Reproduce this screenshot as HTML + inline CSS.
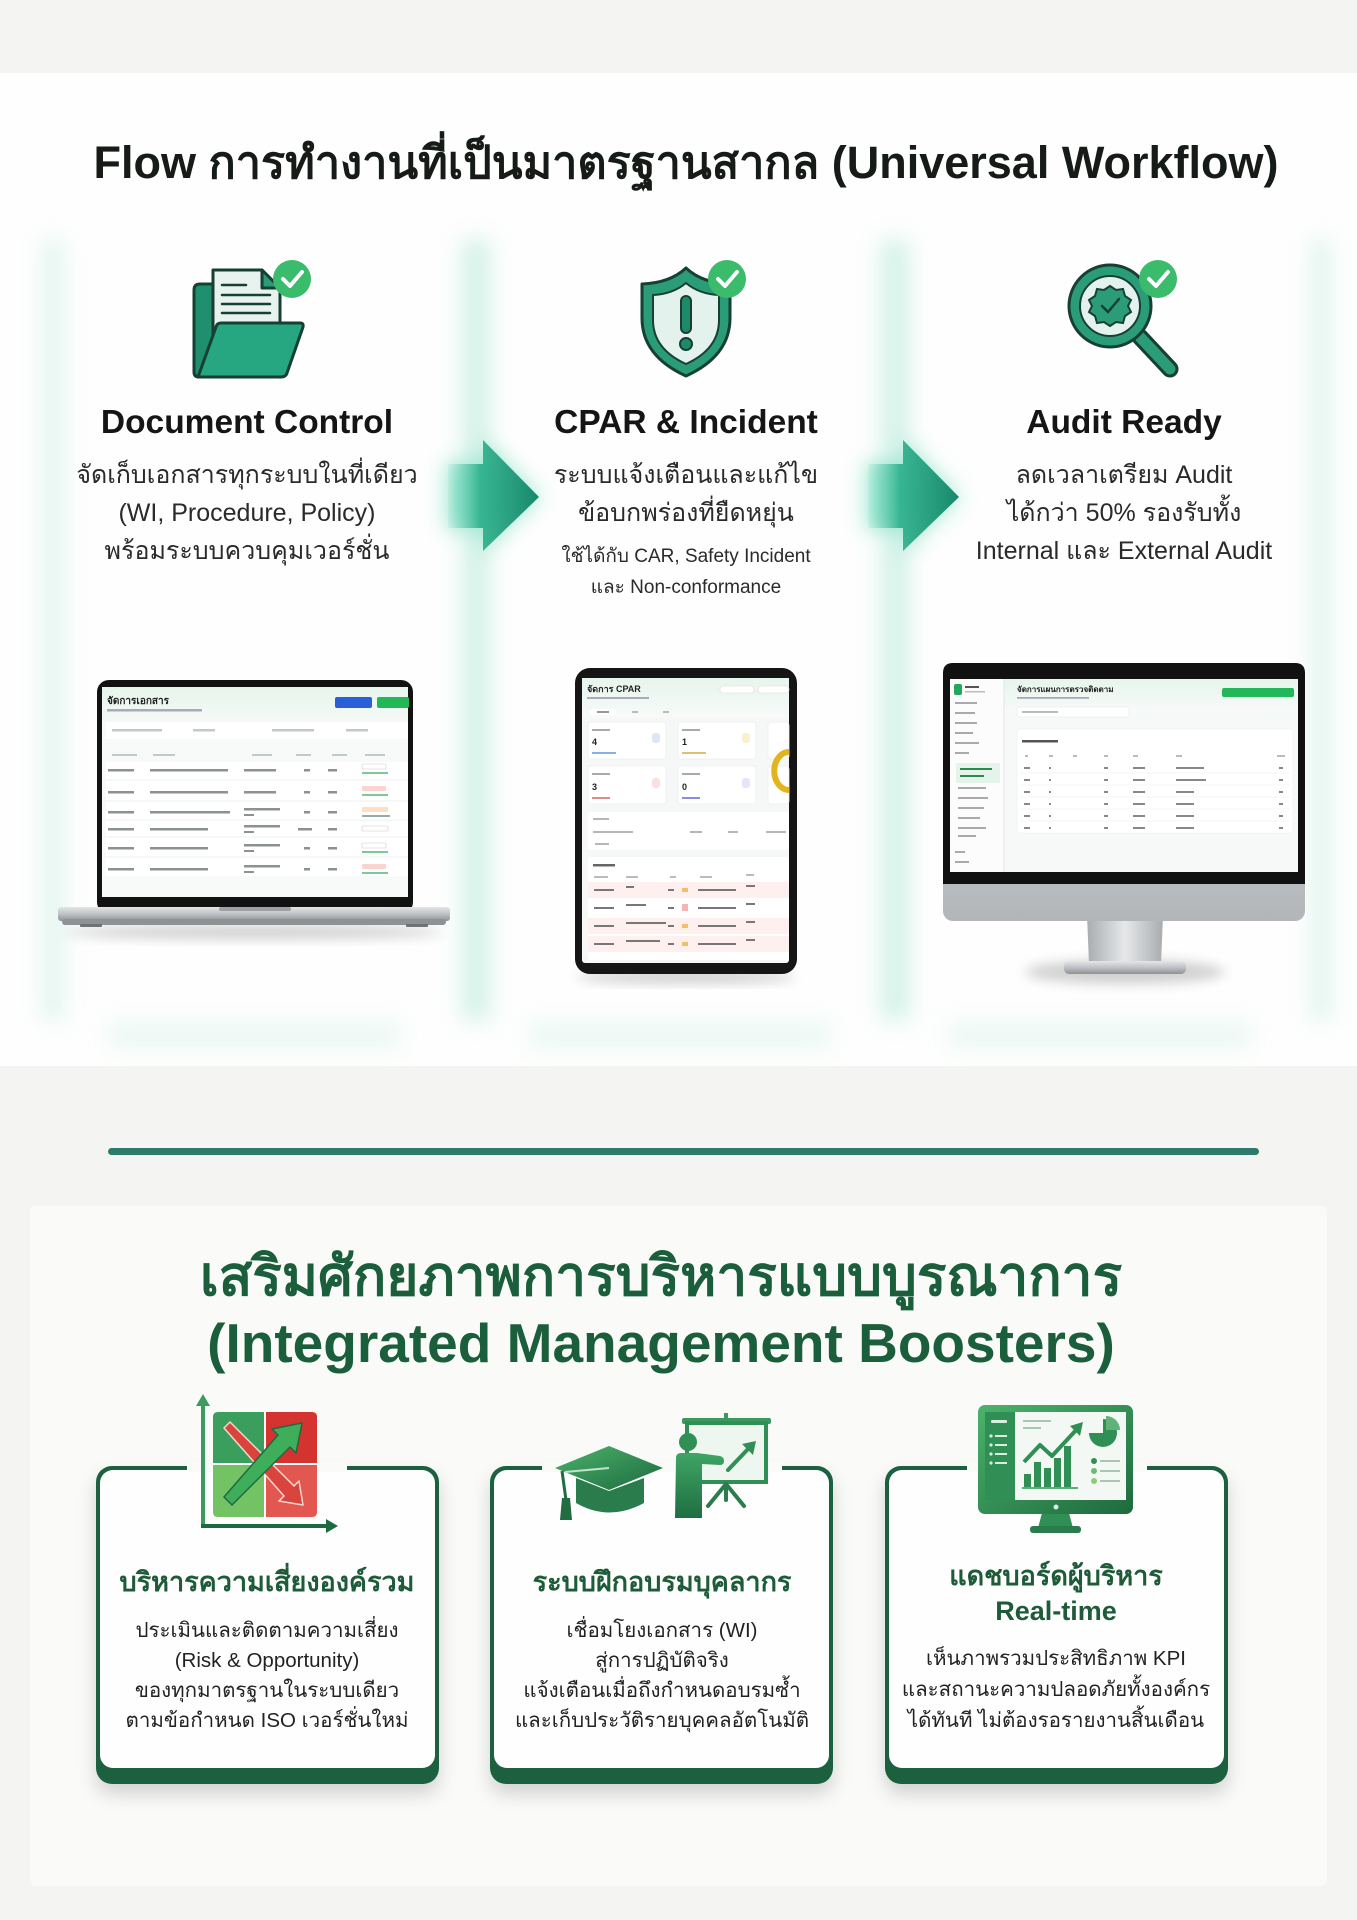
<!DOCTYPE html>
<html><head><meta charset="utf-8">
<style>
html,body{margin:0;padding:0;}
body{width:1357px;height:1920px;position:relative;overflow:hidden;background:#f4f5f2;font-family:"Liberation Sans","DejaVu Sans",sans-serif;}
.t{position:absolute;text-align:center;white-space:nowrap;font-family:"Liberation Sans","DejaVu Sans",sans-serif;}
</style></head>
<body>
<svg width="1357" height="1920" style="position:absolute;left:0;top:0" xmlns="http://www.w3.org/2000/svg">
<defs>
 <filter id="b10" x="-50%" y="-50%" width="200%" height="200%"><feGaussianBlur stdDeviation="10"/></filter>
 <filter id="b6" x="-50%" y="-50%" width="200%" height="200%"><feGaussianBlur stdDeviation="6"/></filter>
 <filter id="b3" x="-50%" y="-50%" width="200%" height="200%"><feGaussianBlur stdDeviation="3"/></filter>
 <filter id="cardsh" x="-20%" y="-20%" width="140%" height="150%"><feDropShadow dx="0" dy="10" stdDeviation="9" flood-color="#000" flood-opacity="0.16"/></filter>
 <linearGradient id="arrG" x1="0" x2="1" y1="0" y2="0">
  <stop offset="0" stop-color="#5fd0b0" stop-opacity="0.1"/>
  <stop offset="0.35" stop-color="#2cb08b" stop-opacity="0.9"/>
  <stop offset="1" stop-color="#17876b"/>
 </linearGradient>
 <linearGradient id="silver" x1="0" y1="0" x2="0" y2="1">
  <stop offset="0" stop-color="#e4e6e8"/><stop offset="0.5" stop-color="#bfc2c5"/><stop offset="1" stop-color="#8e9194"/>
 </linearGradient>
 <linearGradient id="silverH" x1="0" y1="0" x2="1" y2="0">
  <stop offset="0" stop-color="#a9acaf"/><stop offset="0.5" stop-color="#e6e8ea"/><stop offset="1" stop-color="#a9acaf"/>
 </linearGradient>
 <linearGradient id="chin" x1="0" y1="0" x2="0" y2="1">
  <stop offset="0" stop-color="#dadcde"/><stop offset="1" stop-color="#b3b6b9"/>
 </linearGradient>
 <linearGradient id="mintHead" x1="0" y1="0" x2="0" y2="1">
  <stop offset="0" stop-color="#e6f5ec"/><stop offset="1" stop-color="#f8faf9"/>
 </linearGradient>
 <linearGradient id="gG" x1="0" y1="0" x2="1" y2="1">
  <stop offset="0" stop-color="#4cb36b"/><stop offset="1" stop-color="#1d6a3e"/>
 </linearGradient>
 <linearGradient id="gG2" x1="0" y1="0" x2="0" y2="1">
  <stop offset="0" stop-color="#3fa564"/><stop offset="1" stop-color="#1f6e42"/>
 </linearGradient>
</defs>

<!-- backgrounds -->
<rect x="0" y="0" width="1357" height="1920" fill="#f4f5f2"/>
<rect x="0" y="73" width="1357" height="993" fill="#fdfefd"/>
<rect x="30" y="1206" width="1297" height="680" rx="6" fill="#fafbf9"/>

<!-- column glows -->
<g filter="url(#b10)" opacity="0.75">
 <rect x="44" y="240" width="18" height="780" fill="#d4f1e8"/>
 <rect x="462" y="240" width="28" height="780" fill="#c7eee1"/>
 <rect x="881" y="240" width="28" height="780" fill="#c7eee1"/>
 <rect x="1312" y="240" width="18" height="780" fill="#d4f1e8"/>
 <rect x="110" y="1022" width="290" height="26" fill="#e6f6f0"/>
 <rect x="530" y="1022" width="300" height="26" fill="#e6f6f0"/>
 <rect x="950" y="1022" width="300" height="26" fill="#e6f6f0"/>
</g>

<!-- arrows -->
<g filter="url(#b10)" opacity="0.8">
 <polygon points="446,462 482,462 482,438 540,497 482,553 482,530 446,530" fill="#8fe3cb"/>
 <polygon points="866,462 902,462 902,438 960,497 902,553 902,530 866,530" fill="#8fe3cb"/>
</g>
<polygon points="448,464 483,464 483,440 539,497 483,551 483,528 448,528" fill="url(#arrG)"/>
<polygon points="868,464 903,464 903,440 959,497 903,551 903,528 868,528" fill="url(#arrG)"/>

<!-- Doc icon -->
<g stroke="#173f33" stroke-width="3" stroke-linejoin="round">
 <path d="M194 290 Q194 284 200 284 L222 284 L228 290 L268 290 Q272 290 272 294 L272 372 Q272 377 267 377 L199 377 Q194 377 194 372 Z" fill="#1f8f6d"/>
 <path d="M213 270 L262 270 L280 288 L280 335 L213 335 Z" fill="#e8f3ef"/>
 <path d="M262 270 L262 288 L280 288 Z" fill="#2a9d78"/>
 <g stroke-width="2.5" stroke-linecap="round">
  <line x1="222" y1="285" x2="246" y2="285"/>
  <line x1="222" y1="295" x2="270" y2="295"/>
  <line x1="222" y1="304" x2="270" y2="304"/>
  <line x1="222" y1="313" x2="270" y2="313"/>
 </g>
 <path d="M198 377 L216 327 Q217 323 221 323 L300 323 Q304 323 303 327 L287 373 Q286 377 281 377 Z" fill="#26a781"/>
</g>
<circle cx="292" cy="279" r="19" fill="#3bbb6c"/>
<polyline points="283,279 290,286 302,272" fill="none" stroke="#fff" stroke-width="4" stroke-linecap="round" stroke-linejoin="round"/>

<!-- Shield icon -->
<g stroke="#173f33" stroke-linejoin="round">
 <path d="M686 268 Q702 283 730 284 L730 318 Q730 356 686 376 Q642 356 642 318 L642 284 Q670 283 686 268 Z" fill="#2a9d78" stroke-width="3"/>
 <path d="M686 283 Q699 294 719 295 L719 320 Q719 349 686 364 Q653 349 653 320 L653 295 Q673 294 686 283 Z" fill="#e4f2ed" stroke-width="2"/>
 <rect x="681" y="296" width="10" height="37" rx="5" fill="#1f8a6a" stroke-width="2"/>
 <circle cx="686" cy="344" r="6" fill="#1f8a6a" stroke-width="2"/>
</g>
<circle cx="727" cy="279" r="19" fill="#3bbb6c"/>
<polyline points="718,279 725,286 737,272" fill="none" stroke="#fff" stroke-width="4" stroke-linecap="round" stroke-linejoin="round"/>

<!-- Magnifier icon -->
<line x1="1140" y1="337" x2="1170" y2="369" stroke="#173f33" stroke-width="17" stroke-linecap="round"/>
<line x1="1140" y1="337" x2="1170" y2="369" stroke="#2a9d78" stroke-width="11" stroke-linecap="round"/>
<circle cx="1110" cy="306" r="41" fill="#2a9d78" stroke="#173f33" stroke-width="3"/>
<circle cx="1110" cy="306" r="30" fill="#e4f2ed" stroke="#173f33" stroke-width="2"/>
<polygon points="1110,286 1116,290 1123,289 1125,296 1131,300 1128,306 1131,312 1125,316 1123,323 1116,322 1110,326 1104,322 1097,323 1095,316 1089,312 1092,306 1089,300 1095,296 1097,289 1104,290" fill="#2a9d78" stroke="#173f33" stroke-width="2"/>
<polyline points="1102,306 1108,312 1119,299" fill="none" stroke="#173f33" stroke-width="2.5" stroke-linecap="round"/>
<circle cx="1158" cy="279" r="19" fill="#3bbb6c"/>
<polyline points="1149,279 1156,286 1168,272" fill="none" stroke="#fff" stroke-width="4" stroke-linecap="round" stroke-linejoin="round"/>

<!-- ============ LAPTOP ============ -->
<ellipse cx="254" cy="932" rx="190" ry="7" fill="#000" opacity="0.18" filter="url(#b6)"/>
<rect x="97" y="680" width="316" height="234" rx="12" fill="#121212"/>
<rect x="102" y="687" width="306" height="210" fill="#f8faf9"/>
<rect x="102" y="687" width="306" height="42" fill="url(#mintHead)"/>
<text x="107" y="704" font-size="10" font-weight="bold" fill="#222" font-family="Liberation Sans, DejaVu Sans, sans-serif">จัดการเอกสาร</text>
<rect x="107" y="709" width="95" height="2.5" fill="#aab"/>
<rect x="335" y="697" width="37" height="11" rx="2" fill="#2b5fd9"/>
<rect x="377" y="697" width="32" height="11" rx="2" fill="#22b857"/>
<rect x="106" y="722" width="302" height="17" fill="#ffffff"/>
<g fill="#c4c8c6">
 <rect x="112" y="729" width="50" height="2.5"/><rect x="193" y="729" width="22" height="2.5"/>
 <rect x="272" y="729" width="42" height="2.5"/><rect x="346" y="729" width="22" height="2.5"/>
 <rect x="112" y="754" width="25" height="2"/><rect x="153" y="754" width="22" height="2"/>
 <rect x="252" y="754" width="20" height="2"/><rect x="296" y="754" width="15" height="2"/>
 <rect x="332" y="754" width="15" height="2"/><rect x="365" y="754" width="20" height="2"/>
</g>
<rect x="106" y="762" width="302" height="114" fill="#fff"/>
<g fill="#8c9290">
 <rect x="108" y="769" width="26" height="2.5"/><rect x="150" y="769" width="78" height="2.5"/><rect x="244" y="769" width="32" height="2.5"/><rect x="304" y="769" width="6" height="2.5"/><rect x="328" y="769" width="9" height="2.5"/>
 <rect x="108" y="791" width="26" height="2.5"/><rect x="150" y="791" width="78" height="2.5"/><rect x="244" y="791" width="32" height="2.5"/><rect x="304" y="791" width="6" height="2.5"/><rect x="328" y="791" width="9" height="2.5"/>
 <rect x="108" y="811" width="26" height="2.5"/><rect x="150" y="811" width="80" height="2.5"/><rect x="244" y="808" width="36" height="2.5"/><rect x="244" y="814" width="10" height="2"/><rect x="304" y="811" width="6" height="2.5"/><rect x="328" y="811" width="9" height="2.5"/>
 <rect x="108" y="828" width="26" height="2.5"/><rect x="150" y="828" width="58" height="2.5"/><rect x="244" y="825" width="36" height="2.5"/><rect x="244" y="831" width="10" height="2"/><rect x="298" y="828" width="14" height="2.5"/><rect x="328" y="828" width="9" height="2.5"/>
 <rect x="108" y="847" width="26" height="2.5"/><rect x="150" y="847" width="58" height="2.5"/><rect x="244" y="844" width="36" height="2.5"/><rect x="244" y="850" width="10" height="2"/><rect x="304" y="847" width="6" height="2.5"/><rect x="328" y="847" width="9" height="2.5"/>
 <rect x="108" y="868" width="26" height="2.5"/><rect x="150" y="868" width="58" height="2.5"/><rect x="244" y="865" width="36" height="2.5"/><rect x="244" y="871" width="10" height="2"/><rect x="304" y="868" width="6" height="2.5"/><rect x="328" y="868" width="9" height="2.5"/>
</g>
<g>
 <rect x="362" y="764" width="24" height="5" rx="1" fill="#fff" stroke="#ccc" stroke-width="0.6"/><rect x="362" y="772" width="26" height="2" fill="#7cc99a"/>
 <rect x="362" y="786" width="24" height="5" rx="1" fill="#fbd3d3"/><rect x="362" y="794" width="26" height="2" fill="#7cc99a"/>
 <rect x="362" y="807" width="26" height="5" rx="1" fill="#fde0c2"/><rect x="362" y="815" width="28" height="2" fill="#9aa"/>
 <rect x="362" y="826" width="26" height="5" rx="1" fill="#fff" stroke="#ccc" stroke-width="0.6"/>
 <rect x="362" y="843" width="24" height="5" rx="1" fill="#fff" stroke="#ccc" stroke-width="0.6"/><rect x="362" y="851" width="26" height="2" fill="#7cc99a"/>
 <rect x="362" y="864" width="24" height="5" rx="1" fill="#fbd3d3"/><rect x="362" y="872" width="26" height="2" fill="#7cc99a"/>
</g>
<g stroke="#eef0ef" stroke-width="1">
 <line x1="106" y1="780" x2="408" y2="780"/><line x1="106" y1="801" x2="408" y2="801"/><line x1="106" y1="820" x2="408" y2="820"/><line x1="106" y1="837" x2="408" y2="837"/><line x1="106" y1="857" x2="408" y2="857"/>
</g>
<rect x="58" y="907" width="392" height="14" rx="3" fill="url(#silver)"/>
<rect x="62" y="919" width="384" height="6" rx="3" fill="#8f9295"/>
<rect x="219" y="907" width="72" height="4" rx="2" fill="#9ea1a4"/>
<rect x="80" y="924" width="22" height="3" rx="1" fill="#6f7275"/>
<rect x="406" y="924" width="22" height="3" rx="1" fill="#6f7275"/>

<!-- ============ TABLET ============ -->
<ellipse cx="686" cy="977" rx="110" ry="6" fill="#000" opacity="0.2" filter="url(#b6)"/>
<rect x="575" y="668" width="222" height="306" rx="15" fill="#151515"/>
<rect x="582" y="678" width="207" height="285" rx="3" fill="#f6f8f7"/>
<rect x="582" y="678" width="207" height="40" fill="url(#mintHead)"/>
<text x="587" y="692" font-size="9" font-weight="bold" fill="#222" font-family="Liberation Sans, DejaVu Sans, sans-serif">จัดการ CPAR</text>
<rect x="587" y="697" width="62" height="2" fill="#aab"/>
<rect x="720" y="686" width="34" height="7" rx="3" fill="#fff" stroke="#ddd" stroke-width="0.6"/>
<rect x="758" y="686" width="31" height="7" rx="3" fill="#fff" stroke="#ddd" stroke-width="0.6"/>
<rect x="590" y="709" width="26" height="6" rx="2" fill="#fff"/>
<rect x="597" y="711" width="12" height="2" fill="#999"/><rect x="632" y="711" width="6" height="2" fill="#bbb"/><rect x="663" y="711" width="6" height="2" fill="#bbb"/>
<g fill="#fff" stroke="#eceeed" stroke-width="0.8">
 <rect x="588" y="722" width="78" height="37" rx="3"/><rect x="678" y="722" width="78" height="37" rx="3"/><rect x="768" y="722" width="21" height="37" rx="3"/>
 <rect x="588" y="766" width="78" height="38" rx="3"/><rect x="678" y="766" width="78" height="38" rx="3"/><rect x="768" y="766" width="21" height="38" rx="3"/>
</g>
<g font-family="Liberation Sans, DejaVu Sans, sans-serif" font-size="9" font-weight="bold" fill="#222">
 <text x="592" y="745">4</text><text x="682" y="745">1</text><text x="592" y="790">3</text><text x="682" y="790">0</text>
</g>
<g fill="#aaa"><rect x="592" y="729" width="18" height="2"/><rect x="682" y="729" width="18" height="2"/><rect x="592" y="773" width="18" height="2"/><rect x="682" y="773" width="18" height="2"/></g>
<rect x="592" y="752" width="24" height="2" fill="#8ab0e0"/><rect x="682" y="752" width="24" height="2" fill="#e0c070"/>
<rect x="592" y="797" width="18" height="2" fill="#e08a8a"/><rect x="682" y="797" width="18" height="2" fill="#8a8ae0"/>
<rect x="652" y="733" width="8" height="10" rx="3" fill="#dde6f7"/><rect x="742" y="733" width="8" height="10" rx="3" fill="#fbf0cc"/>
<rect x="652" y="778" width="8" height="10" rx="3" fill="#fbe0e0"/><rect x="742" y="778" width="8" height="10" rx="3" fill="#e4e4fb"/>
<path d="M789 752 A 14 18 0 0 0 789 790" fill="none" stroke="#e2b51e" stroke-width="6"/>
<rect x="588" y="812" width="201" height="38" rx="3" fill="#fff"/>
<g fill="#b4b8b6"><rect x="593" y="818" width="16" height="2"/><rect x="593" y="831" width="40" height="2"/><rect x="690" y="831" width="12" height="2"/><rect x="728" y="831" width="10" height="2"/><rect x="766" y="831" width="20" height="2"/><rect x="595" y="843" width="14" height="2"/></g>
<rect x="588" y="857" width="201" height="103" rx="3" fill="#fff"/>
<rect x="593" y="864" width="22" height="2.5" fill="#666"/>
<g fill="#bbb"><rect x="594" y="876" width="14" height="2"/><rect x="626" y="876" width="12" height="2"/><rect x="670" y="876" width="6" height="2"/><rect x="700" y="876" width="12" height="2"/><rect x="746" y="874" width="8" height="2"/></g>
<g fill="#fdf0ee">
 <rect x="588" y="882" width="201" height="16"/><rect x="588" y="918" width="201" height="16"/><rect x="588" y="936" width="201" height="16"/>
</g>
<g fill="#777">
 <rect x="594" y="889" width="20" height="2"/><rect x="626" y="886" width="8" height="2"/><rect x="668" y="889" width="6" height="2"/><rect x="682" y="888" width="6" height="4" fill="#f3c06a"/><rect x="698" y="889" width="38" height="2"/><rect x="746" y="885" width="9" height="2"/>
 <rect x="594" y="907" width="20" height="2"/><rect x="626" y="904" width="20" height="2"/><rect x="668" y="907" width="6" height="2"/><rect x="682" y="904" width="6" height="7" fill="#f5b5b5"/><rect x="698" y="907" width="38" height="2"/><rect x="746" y="903" width="9" height="2"/>
 <rect x="594" y="925" width="20" height="2"/><rect x="626" y="922" width="40" height="2"/><rect x="668" y="925" width="6" height="2"/><rect x="682" y="924" width="6" height="4" fill="#f3c06a"/><rect x="698" y="925" width="38" height="2"/><rect x="746" y="921" width="9" height="2"/>
 <rect x="594" y="943" width="20" height="2"/><rect x="626" y="940" width="34" height="2"/><rect x="668" y="943" width="6" height="2"/><rect x="682" y="942" width="6" height="4" fill="#f3c06a"/><rect x="698" y="943" width="38" height="2"/><rect x="746" y="939" width="9" height="2"/>
</g>

<!-- ============ iMAC ============ -->
<ellipse cx="1125" cy="972" rx="100" ry="12" fill="#000" opacity="0.18" filter="url(#b6)"/>
<path d="M1087 915 L1163 915 L1161 964 L1089 964 Z" fill="url(#silverH)"/>
<rect x="1064" y="961" width="122" height="13" rx="5" fill="url(#silver)"/>
<rect x="943" y="663" width="362" height="258" rx="10" fill="url(#chin)"/>
<path d="M953 663 L1295 663 Q1305 663 1305 673 L1305 884 L943 884 L943 673 Q943 663 953 663 Z" fill="#111"/>
<rect x="950" y="679" width="348" height="193" fill="#f7f9f8"/>
<rect x="1004" y="679" width="294" height="34" fill="url(#mintHead)"/>
<rect x="950" y="679" width="54" height="193" fill="#fbfcfb"/>
<line x1="1004" y1="679" x2="1004" y2="872" stroke="#e3e6e4" stroke-width="1"/>
<rect x="954" y="684" width="8" height="11" rx="2" fill="#22a85a"/>
<rect x="965" y="686" width="14" height="2" fill="#555"/><rect x="965" y="691" width="20" height="1.5" fill="#bbb"/>
<g fill="#aaa">
 <rect x="955" y="702" width="22" height="2"/><rect x="955" y="712" width="20" height="2"/><rect x="955" y="722" width="22" height="2"/><rect x="955" y="732" width="18" height="2"/><rect x="955" y="742" width="24" height="2"/><rect x="955" y="752" width="14" height="2"/>
 <rect x="958" y="787" width="28" height="2"/><rect x="958" y="797" width="30" height="2"/><rect x="958" y="807" width="26" height="2"/><rect x="958" y="817" width="22" height="2"/><rect x="958" y="827" width="28" height="2"/><rect x="958" y="835" width="18" height="2"/>
 <rect x="955" y="851" width="10" height="2"/><rect x="955" y="861" width="14" height="2"/>
</g>
<rect x="956" y="763" width="44" height="20" rx="2" fill="#e5f4ea"/>
<rect x="960" y="768" width="32" height="2" fill="#2d8a4e"/><rect x="960" y="775" width="24" height="2" fill="#2d8a4e"/>
<text x="1017" y="692" font-size="8" font-weight="bold" fill="#222" font-family="Liberation Sans, DejaVu Sans, sans-serif">จัดการแผนการตรวจติดตาม</text>
<rect x="1017" y="697" width="72" height="1.8" fill="#aab"/>
<rect x="1222" y="688" width="72" height="9" rx="2" fill="#22b85a"/>
<rect x="1017" y="707" width="112" height="10" rx="2" fill="#fff" stroke="#e3e6e4" stroke-width="0.6"/>
<rect x="1022" y="711" width="36" height="2" fill="#bbb"/>
<rect x="1017" y="729" width="276" height="104" rx="3" fill="#fff" stroke="#eceeed" stroke-width="0.6"/>
<rect x="1022" y="740" width="36" height="2.5" fill="#555"/>
<g fill="#b8bcba"><rect x="1025" y="755" width="3" height="2"/><rect x="1049" y="755" width="4" height="2"/><rect x="1073" y="755" width="4" height="2"/><rect x="1104" y="755" width="4" height="2"/><rect x="1133" y="755" width="5" height="2"/><rect x="1176" y="755" width="6" height="2"/><rect x="1277" y="755" width="8" height="2"/></g>
<g fill="#888">
 <rect x="1024" y="767" width="6" height="2"/><rect x="1049" y="767" width="2" height="2"/><rect x="1104" y="767" width="4" height="2"/><rect x="1133" y="767" width="12" height="2"/><rect x="1176" y="767" width="28" height="2"/><rect x="1279" y="767" width="4" height="2"/>
 <rect x="1024" y="779" width="6" height="2"/><rect x="1049" y="779" width="2" height="2"/><rect x="1104" y="779" width="4" height="2"/><rect x="1133" y="779" width="12" height="2"/><rect x="1176" y="779" width="30" height="2"/><rect x="1279" y="779" width="4" height="2"/>
 <rect x="1024" y="791" width="6" height="2"/><rect x="1049" y="791" width="2" height="2"/><rect x="1104" y="791" width="4" height="2"/><rect x="1133" y="791" width="12" height="2"/><rect x="1176" y="791" width="18" height="2"/><rect x="1279" y="791" width="4" height="2"/>
 <rect x="1024" y="803" width="6" height="2"/><rect x="1049" y="803" width="2" height="2"/><rect x="1104" y="803" width="4" height="2"/><rect x="1133" y="803" width="12" height="2"/><rect x="1176" y="803" width="18" height="2"/><rect x="1279" y="803" width="4" height="2"/>
 <rect x="1024" y="815" width="6" height="2"/><rect x="1049" y="815" width="2" height="2"/><rect x="1104" y="815" width="4" height="2"/><rect x="1133" y="815" width="12" height="2"/><rect x="1176" y="815" width="18" height="2"/><rect x="1279" y="815" width="4" height="2"/>
 <rect x="1024" y="827" width="6" height="2"/><rect x="1049" y="827" width="2" height="2"/><rect x="1104" y="827" width="4" height="2"/><rect x="1133" y="827" width="12" height="2"/><rect x="1176" y="827" width="18" height="2"/><rect x="1279" y="827" width="4" height="2"/>
</g>
<g stroke="#f0f1f0" stroke-width="0.8"><line x1="1020" y1="773" x2="1290" y2="773"/><line x1="1020" y1="785" x2="1290" y2="785"/><line x1="1020" y1="797" x2="1290" y2="797"/><line x1="1020" y1="809" x2="1290" y2="809"/><line x1="1020" y1="821" x2="1290" y2="821"/></g>

<!-- separator -->
<rect x="108" y="1148" width="1151" height="7" rx="3.5" fill="#2b7a6b"/>

<!-- ============ CARDS ============ -->
<g filter="url(#cardsh)">
 <rect x="96" y="1466" width="343" height="318" rx="16" fill="#1a6140"/>
 <rect x="490" y="1466" width="343" height="318" rx="16" fill="#1a6140"/>
 <rect x="885" y="1466" width="343" height="318" rx="16" fill="#1a6140"/>
</g>
<rect x="100" y="1470" width="335" height="298" rx="13" fill="#fdfefd"/>
<rect x="494" y="1470" width="335" height="298" rx="13" fill="#fdfefd"/>
<rect x="889" y="1470" width="335" height="298" rx="13" fill="#fdfefd"/>
<!-- gaps in top border -->
<rect x="187" y="1462" width="160" height="10" fill="#fafbf9"/>
<rect x="542" y="1462" width="240" height="10" fill="#fafbf9"/>
<rect x="967" y="1462" width="180" height="10" fill="#fafbf9"/>

<!-- Risk icon -->
<rect x="213" y="1412" width="104" height="105" rx="5" fill="#fff"/>
<path d="M218 1412 L264 1412 L264 1463 L213 1463 L213 1417 Q213 1412 218 1412 Z" fill="#3a9e5c"/>
<path d="M266 1412 L312 1412 Q317 1412 317 1417 L317 1463 L266 1463 Z" fill="#d4332f"/>
<path d="M213 1465 L264 1465 L264 1517 L218 1517 Q213 1517 213 1512 Z" fill="#73c263"/>
<path d="M266 1465 L317 1465 L317 1512 Q317 1517 312 1517 L266 1517 Z" fill="#e2574f"/>
<line x1="203" y1="1527" x2="203" y2="1402" stroke="#3c9c5e" stroke-width="4"/>
<polygon points="203,1394 196,1406 210,1406" fill="#3c9c5e"/>
<line x1="201" y1="1526" x2="330" y2="1526" stroke="#1d6a40" stroke-width="4"/>
<polygon points="338,1526 326,1519 326,1533" fill="#1d6a40"/>
<path d="M224 1428 L230 1422 L294 1486 L299 1481 L303 1505 L279 1501 L284 1496 Z" fill="#d9443c" stroke="#f3d8d0" stroke-width="1.5" stroke-linejoin="round"/>
<path d="M224 1497 L232 1505 L290 1447 L296 1453 L302 1423 L272 1429 L278 1435 Z" fill="#3fae5a" stroke="#1d6a40" stroke-width="1.5" stroke-linejoin="round"/>

<!-- Education icon -->
<polygon points="555,1468 609,1446 663,1468 609,1490" fill="url(#gG)"/>
<path d="M576 1478 L609 1491 L644 1478 L644 1503 Q609 1522 576 1503 Z" fill="#2a7c4c"/>
<line x1="609" y1="1468" x2="565" y2="1472" stroke="#bfe3cc" stroke-width="2"/>
<line x1="562" y1="1471" x2="566" y2="1500" stroke="#226c41" stroke-width="3"/>
<path d="M562 1498 L570 1498 L572 1520 L560 1520 Z" fill="#226c41"/>
<rect x="682" y="1418" width="89" height="6" rx="2" fill="#3a9a5e"/>
<rect x="724" y="1413" width="4" height="6" fill="#3a9a5e"/>
<rect x="687" y="1423" width="79" height="59" fill="#eef6f0" stroke="#2f8f55" stroke-width="4"/>
<line x1="726" y1="1484" x2="708" y2="1506" stroke="#2a7c4c" stroke-width="4" stroke-linecap="round"/>
<line x1="726" y1="1484" x2="744" y2="1506" stroke="#2a7c4c" stroke-width="4" stroke-linecap="round"/>
<line x1="726" y1="1484" x2="726" y2="1500" stroke="#2a7c4c" stroke-width="4" stroke-linecap="round"/>
<line x1="728" y1="1470" x2="749" y2="1448" stroke="#2f8f55" stroke-width="4" stroke-linecap="round"/>
<polygon points="756,1441 742,1444 753,1455" fill="#2f8f55"/>
<circle cx="688" cy="1442" r="9" fill="#2f8f55"/>
<path d="M676 1458 Q676 1453 681 1453 L697 1453 L720 1456 Q724 1457 724 1461 Q724 1465 720 1465 L702 1464 L702 1518 L675 1518 Z" fill="url(#gG2)"/>

<!-- Dashboard monitor icon -->
<path d="M1042 1513 L1069 1513 L1073 1528 L1038 1528 Z" fill="#2f8f55"/>
<rect x="1030" y="1526" width="51" height="7" rx="3" fill="#2a7c4c"/>
<rect x="978" y="1405" width="155" height="109" rx="7" fill="url(#gG)"/>
<rect x="985" y="1412" width="141" height="88" fill="#f3f8f4"/>
<rect x="985" y="1412" width="30" height="88" fill="#2f8f55"/>
<rect x="991" y="1420" width="16" height="3" rx="1" fill="#d8eede"/>
<g fill="#d8eede">
 <circle cx="991" cy="1436" r="1.6"/><rect x="995" y="1435" width="12" height="2"/>
 <circle cx="991" cy="1445" r="1.6"/><rect x="995" y="1444" width="12" height="2"/>
 <circle cx="991" cy="1454" r="1.6"/><rect x="995" y="1453" width="12" height="2"/>
 <circle cx="991" cy="1463" r="1.6"/><rect x="995" y="1462" width="12" height="2"/>
</g>
<rect x="1023" y="1420" width="28" height="2" fill="#a9c7b3"/><rect x="1023" y="1427" width="18" height="2" fill="#a9c7b3"/>
<g fill="#2f8f55">
 <rect x="1024" y="1474" width="7" height="13"/><rect x="1034" y="1462" width="7" height="25"/><rect x="1044" y="1468" width="7" height="19"/><rect x="1054" y="1458" width="7" height="29"/><rect x="1064" y="1446" width="7" height="41"/>
</g>
<line x1="1022" y1="1488" x2="1078" y2="1488" stroke="#2f8f55" stroke-width="1.5"/>
<polyline points="1024,1462 1040,1445 1052,1456 1078,1428" fill="none" stroke="#2f8f55" stroke-width="4" stroke-linejoin="round"/>
<polygon points="1083,1422 1070,1426 1080,1436" fill="#2f8f55"/>
<path d="M1103 1433 L1103 1419 A14 14 0 1 1 1089 1433 Z" fill="#2f8f55"/>
<path d="M1106 1430 L1106 1416 A14 14 0 0 1 1120 1430 Z" fill="#5fb378"/>
<circle cx="1094" cy="1461" r="3" fill="#2f8f55"/><rect x="1100" y="1460" width="20" height="2" fill="#a9c7b3"/>
<circle cx="1094" cy="1471" r="3" fill="#6dbb6d"/><rect x="1100" y="1470" width="20" height="2" fill="#a9c7b3"/>
<circle cx="1094" cy="1481" r="3" fill="#8ccb72"/><rect x="1100" y="1480" width="20" height="2" fill="#a9c7b3"/>
<circle cx="1056" cy="1507" r="2.5" fill="#d8eede"/>
</svg>

<!-- ===== TEXT ===== -->
<div class="t" style="left:36px;width:1300px;top:134px;line-height:58px;font-size:45px;font-weight:bold;color:#161b18;">Flow การทำงานที่เป็นมาตรฐานสากล (Universal Workflow)</div>

<div class="t" style="left:47px;width:400px;top:401px;line-height:44px;font-size:33.5px;font-weight:bold;color:#151515;">Document Control</div>
<div class="t" style="left:486px;width:400px;top:401px;line-height:44px;font-size:33.5px;font-weight:bold;color:#151515;">CPAR &amp; Incident</div>
<div class="t" style="left:924px;width:400px;top:401px;line-height:44px;font-size:33.5px;font-weight:bold;color:#151515;">Audit Ready</div>

<div class="t" style="left:27px;width:440px;top:456px;line-height:38px;font-size:25px;color:#2a2a2a;">จัดเก็บเอกสารทุกระบบในที่เดียว<br>(WI, Procedure, Policy)<br>พร้อมระบบควบคุมเวอร์ชั่น</div>
<div class="t" style="left:486px;width:400px;top:456px;line-height:38px;font-size:25px;color:#2a2a2a;">ระบบแจ้งเตือนและแก้ไข<br>ข้อบกพร่องที่ยืดหยุ่น</div>
<div class="t" style="left:486px;width:400px;top:541px;line-height:31px;font-size:19px;color:#2a2a2a;">ใช้ได้กับ CAR, Safety Incident<br>และ Non-conformance</div>
<div class="t" style="left:924px;width:400px;top:456px;line-height:38px;font-size:25px;color:#2a2a2a;">ลดเวลาเตรียม Audit<br>ได้กว่า 50% รองรับทั้ง<br>Internal และ External Audit</div>

<div class="t" style="left:111px;width:1100px;top:1243px;line-height:67px;font-size:55px;font-weight:bold;color:#1b5e3b;">เสริมศักยภาพการบริหารแบบบูรณาการ<br>(Integrated Management Boosters)</div>

<div class="t" style="left:97px;width:340px;top:1564px;line-height:36px;font-size:27px;font-weight:bold;color:#1e5b39;">บริหารความเสี่ยงองค์รวม</div>
<div class="t" style="left:492px;width:340px;top:1564px;line-height:36px;font-size:27px;font-weight:bold;color:#1e5b39;">ระบบฝึกอบรมบุคลากร</div>
<div class="t" style="left:886px;width:340px;top:1559px;line-height:35px;font-size:27px;font-weight:bold;color:#1e5b39;">แดชบอร์ดผู้บริหาร<br>Real-time</div>

<div class="t" style="left:97px;width:340px;top:1616px;line-height:30px;font-size:20.5px;color:#222;">ประเมินและติดตามความเสี่ยง<br>(Risk &amp; Opportunity)<br>ของทุกมาตรฐานในระบบเดียว<br>ตามข้อกำหนด ISO เวอร์ชั่นใหม่</div>
<div class="t" style="left:492px;width:340px;top:1616px;line-height:30px;font-size:20.5px;color:#222;">เชื่อมโยงเอกสาร (WI)<br>สู่การปฏิบัติจริง<br>แจ้งเตือนเมื่อถึงกำหนดอบรมซ้ำ<br>และเก็บประวัติรายบุคคลอัตโนมัติ</div>
<div class="t" style="left:886px;width:340px;top:1643px;line-height:31px;font-size:20.5px;color:#222;">เห็นภาพรวมประสิทธิภาพ KPI<br>และสถานะความปลอดภัยทั้งองค์กร<br>ได้ทันที ไม่ต้องรอรายงานสิ้นเดือน</div>
</body></html>
